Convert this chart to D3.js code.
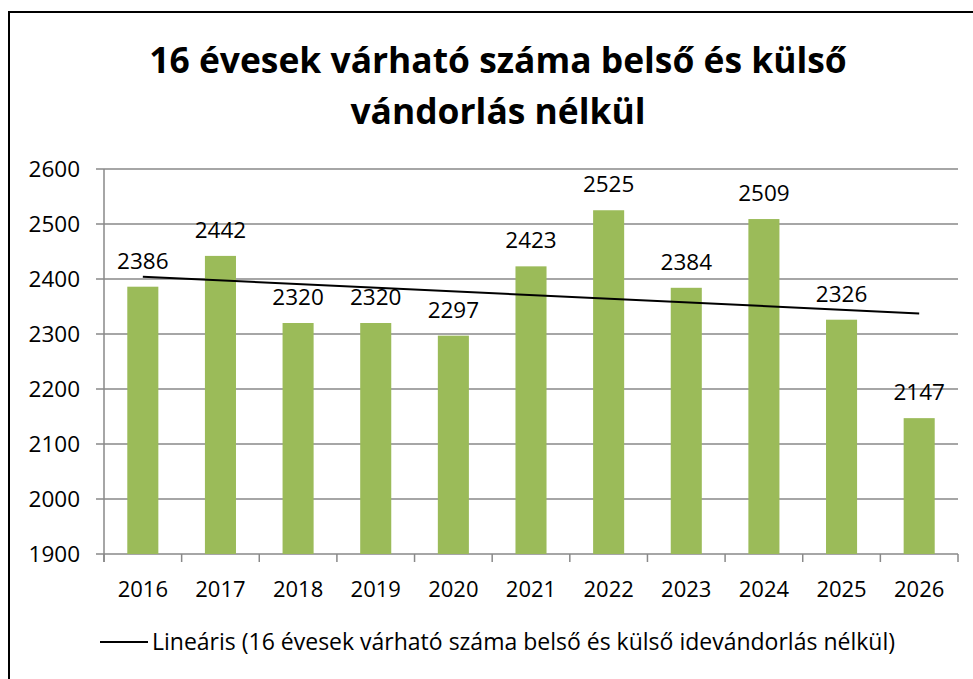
<!DOCTYPE html>
<html><head><meta charset="utf-8">
<script src="https://cdn.jsdelivr.net/npm/d3@7"></script>
<style>body{margin:0;background:#fff}svg{display:block}text{font-family:"Open Sans",sans-serif}</style>
</head><body>
<svg id="c" width="973" height="679"></svg>
<script>
const years = ["2016","2017","2018","2019","2020","2021","2022","2023","2024","2025","2026"];
const values = [2386,2442,2320,2320,2297,2423,2525,2384,2509,2326,2147];
const yTicks = [1900,2000,2100,2200,2300,2400,2500,2600];
const titleLines = ["16 évesek várható száma belső és külső","vándorlás nélkül"];
const legendLabel = "Lineáris (16 évesek várható száma belső és külső idevándorlás nélkül)";

const svg = d3.select("#c");
svg.append("rect").attr("x",0).attr("y",0).attr("width",973).attr("height",679).attr("fill","#fff");
// frame
svg.append("rect").attr("x",9).attr("y",12).attr("width",1000).attr("height",700)
  .attr("fill","none").attr("stroke","#000").attr("stroke-width",2);

const x = d3.scaleBand().domain(years).range([104,958]).paddingInner(0.6).paddingOuter(0.3);
const xc = d3.scaleBand().domain(years).range([104,958]).padding(0);
const y = d3.scaleLinear().domain([1900,2600]).range([554,169]);

// gridlines
svg.append("g").selectAll("line").data(yTicks).join("line")
  .attr("x1",96).attr("x2",958).attr("y1",d=>y(d)).attr("y2",d=>y(d))
  .attr("stroke","#898989").attr("stroke-width",1.5);
// y axis line
svg.append("line").attr("x1",104).attr("x2",104).attr("y1",y(2600)).attr("y2",y(1900)+8)
  .attr("stroke","#898989").attr("stroke-width",1.5);
// x ticks
const bounds = years.map(d=>xc(d)).concat([xc(years[years.length-1])+xc.bandwidth()]);
svg.append("g").selectAll("line").data(bounds).join("line")
  .attr("x1",d=>d).attr("x2",d=>d).attr("y1",y(1900)).attr("y2",y(1900)+8)
  .attr("stroke","#898989").attr("stroke-width",1.5);
// y labels
svg.append("g").selectAll("text").data(yTicks).join("text")
  .attr("x",80).attr("y",d=>y(d)).attr("dy","0.36em").attr("text-anchor","end")
  .attr("font-size",22.5).attr("fill","#000").text(d=>d);
// x labels
svg.append("g").selectAll("text").data(years).join("text")
  .attr("x",d=>xc(d)+xc.bandwidth()/2).attr("y",597).attr("text-anchor","middle")
  .attr("font-size",22).attr("fill","#000").text(d=>d);
// bars
svg.append("g").selectAll("rect").data(values).join("rect")
  .attr("x",(d,i)=>x(years[i])).attr("width",x.bandwidth())
  .attr("y",d=>y(d)).attr("height",d=>y(1900)-y(d)).attr("fill","#9BBB59");
// bar labels
svg.append("g").selectAll("text").data(values).join("text")
  .attr("x",(d,i)=>xc(years[i])+xc.bandwidth()/2).attr("y",d=>y(d)-18)
  .attr("text-anchor","middle").attr("font-size",22.5).attr("fill","#000").text(d=>d);
// linear trend
const n = values.length;
const mx = d3.mean(d3.range(n)), my = d3.mean(values);
const slope = d3.sum(values,(v,i)=>(i-mx)*(v-my))/d3.sum(d3.range(n),i=>(i-mx)*(i-mx));
const icpt = my - slope*mx;
const cx = i => xc(years[i])+xc.bandwidth()/2;
svg.append("line").attr("x1",cx(0)).attr("y1",y(icpt)).attr("x2",cx(n-1)).attr("y2",y(icpt+slope*(n-1)))
  .attr("stroke","#000").attr("stroke-width",2);
// title
svg.append("g").selectAll("text").data(titleLines).join("text")
  .attr("x",498).attr("y",(d,i)=>73+i*51).attr("text-anchor","middle")
  .attr("font-size",35.4).attr("font-weight","bold").attr("fill","#000").text(d=>d);
// legend
svg.append("line").attr("x1",100).attr("x2",148).attr("y1",642).attr("y2",642).attr("stroke","#000").attr("stroke-width",2);
svg.append("text").attr("x",152).attr("y",650).attr("font-size",23).attr("fill","#000").text(legendLabel);
</script>
</body></html>
